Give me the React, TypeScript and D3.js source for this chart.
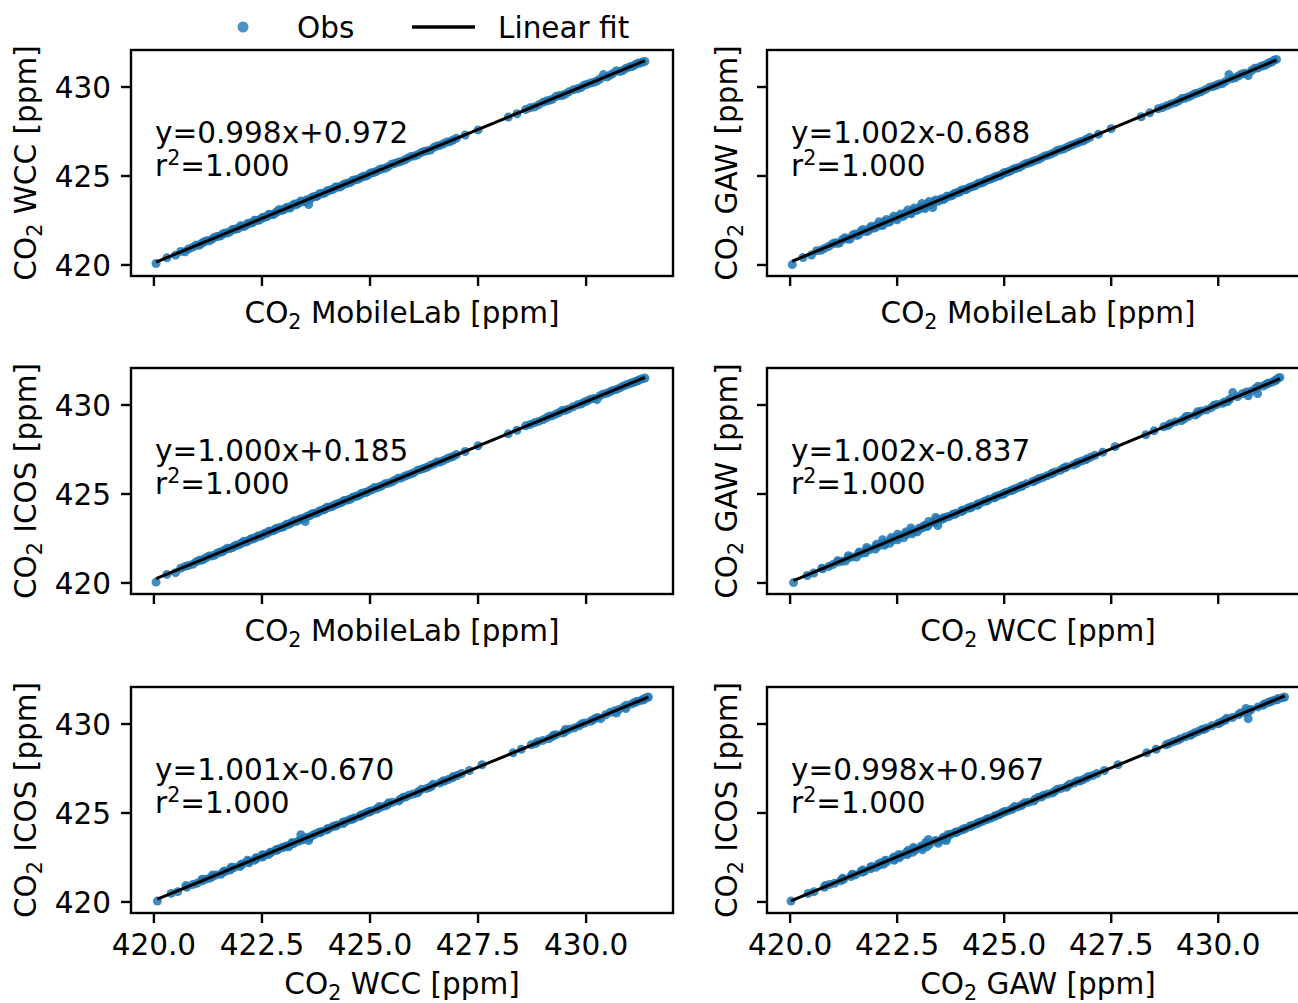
import React from "react";
import * as d3 from "d3";

// CO2 readings of the four instruments (same time stamps), ppm
const mobileLab = [
  420.05, 420.5, 420.72, 420.9, 421.05, 421.15, 421.28, 421.4, 421.52, 421.6,
  421.7, 421.82, 421.9, 422.0, 422.08, 422.17, 422.25, 422.33, 422.42, 422.5,
  422.58, 422.66, 422.75, 422.83, 422.9, 423.0, 423.08, 423.15, 423.25, 423.33,
  423.4, 423.5, 423.58, 423.66, 423.75, 423.83, 423.92, 424.0, 424.1, 424.2,
  424.3, 424.4, 424.5, 424.6, 424.7, 424.8, 424.9, 425.0, 425.1, 425.22,
  425.35, 425.5, 425.65, 425.8, 425.95, 426.1, 426.25, 426.4, 426.55, 426.7,
  426.85, 427.0, 427.2, 427.5, 428.2, 428.6, 428.8, 429.0, 429.15, 429.3,
  429.45, 429.6, 429.8, 429.95, 430.1, 430.25, 430.4, 430.55, 430.7, 430.85,
  431.0, 431.1, 431.2, 431.3, 431.36,
  420.3, 420.62, 420.8, 420.98, 421.1, 421.22, 421.34, 421.46, 421.56, 421.65,
  421.76, 421.86, 421.95, 422.04, 422.12, 422.21, 422.29, 422.37, 422.46, 422.54,
  422.62, 422.7, 422.79, 422.87, 422.95, 423.04, 423.12, 423.2, 423.29, 423.37,
  423.45, 423.54, 423.62, 423.7, 423.79, 423.88, 423.96, 424.05, 424.15, 424.25,
  424.35, 424.45, 424.55, 424.65, 424.75, 424.85, 424.95, 425.05, 425.16, 425.28,
  425.42, 425.57, 425.72, 425.87, 426.02, 426.18, 426.32, 426.48, 426.62, 426.78,
  426.92, 428.4, 428.7, 428.9, 429.08, 429.22, 429.38, 429.52, 429.7, 429.88,
  430.02, 430.18, 430.32, 430.48, 430.62, 430.78, 430.92, 431.05, 431.15, 431.25,
];
const wcc = [
  420.08, 420.55, 420.74, 421.0, 421.11, 421.29, 421.36, 421.55, 421.62, 421.76,
  421.79, 421.99, 422.02, 422.2, 422.16, 422.33, 422.36, 422.51, 422.51, 422.65,
  422.7, 422.85, 422.82, 422.97, 423.12, 423.1, 423.24, 423.2, 423.43, 423.45,
  423.6, 423.58, 423.4, 423.8, 423.85, 424.0, 424.01, 424.15, 424.22, 424.38,
  424.38, 424.54, 424.61, 424.76, 424.8, 424.93, 424.99, 425.15, 425.21, 425.36,
  425.43, 425.66, 425.77, 425.9, 426.1, 426.19, 426.38, 426.46, 426.69, 426.81,
  426.93, 427.12, 427.3, 427.59, 428.31, 428.73, 428.88, 429.14, 429.25, 429.46,
  429.52, 429.73, 429.9, 430.1, 430.22, 430.34, 430.7, 430.66, 430.92, 430.93,
  431.12, 431.19, 431.33, 431.4, 431.44,
  420.4, 420.76, 420.9, 421.12, 421.2, 421.36, 421.44, 421.6, 421.66, 421.79,
  421.86, 422.0, 422.05, 422.18, 422.22, 422.35, 422.39, 422.5, 422.56, 422.68,
  422.72, 422.84, 422.88, 423.01, 423.05, 423.17, 423.22, 423.34, 423.38, 423.5,
  423.55, 423.67, 423.72, 423.84, 423.88, 424.01, 424.06, 424.18, 424.25, 424.38,
  424.45, 424.58, 424.64, 424.78, 424.85, 424.98, 425.05, 425.18, 425.27, 425.41,
  425.52, 425.7, 425.82, 426.0, 426.12, 426.31, 426.42, 426.61, 426.72, 426.91,
  427.02, 428.5, 428.83, 429.0, 429.21, 429.31, 429.52, 429.61, 429.84, 429.97,
  430.15, 430.27, 430.45, 430.56, 430.76, 430.87, 431.05, 431.15, 431.28, 431.35,
];
const icos = [
  420.05, 420.58, 420.92, 421.05, 421.27, 421.33, 421.52, 421.56, 421.73, 421.79,
  421.95, 421.99, 422.12, 422.2, 422.34, 422.35, 422.48, 422.52, 422.66, 422.67,
  422.79, 422.91, 422.93, 423.06, 423.1, 423.16, 423.3, 423.34, 423.49, 423.51,
  423.61, 423.45, 423.78, 423.89, 423.92, 424.05, 424.11, 424.25, 424.28, 424.41,
  424.5, 424.64, 424.67, 424.82, 424.89, 425.03, 425.08, 425.21, 425.36, 425.41,
  425.57, 425.67, 425.89, 426.0, 426.13, 426.33, 426.44, 426.61, 426.8, 426.88,
  427.05, 427.22, 427.39, 427.71, 428.38, 428.83, 429.0, 429.17, 429.37, 429.49,
  429.69, 429.78, 430.01, 430.15, 430.33, 430.3, 430.62, 430.74, 430.87, 431.06,
  431.2, 431.28, 431.36, 431.47, 431.52,
  420.48, 420.83, 420.98, 421.19, 421.28, 421.43, 421.52, 421.67, 421.74, 421.86,
  421.94, 422.07, 422.13, 422.25, 422.3, 422.42, 422.47, 422.57, 422.64, 422.75,
  422.8, 422.91, 422.97, 423.08, 423.13, 423.24, 423.3, 423.41, 423.46, 423.57,
  423.63, 423.74, 423.8, 423.91, 423.96, 424.08, 424.14, 424.25, 424.33, 424.45,
  424.53, 424.65, 424.72, 424.85, 424.93, 425.05, 425.13, 425.25, 425.34, 425.48,
  425.6, 425.77, 425.9, 426.07, 426.2, 426.38, 426.5, 426.68, 426.8, 426.98,
  427.1, 428.58, 428.9, 429.08, 429.28, 429.4, 429.58, 429.7, 429.9, 430.06,
  430.22, 430.36, 430.52, 430.66, 430.82, 430.96, 431.12, 431.24, 431.33, 431.44,
];
const gaw = [
  420.02, 420.56, 420.82, 421.04, 421.25, 421.23, 421.53, 421.45, 421.74, 421.7,
  422.0, 421.9, 422.18, 422.12, 422.43, 422.23, 422.55, 422.43, 422.74, 422.54,
  422.86, 422.76, 423.09, 422.88, 423.2, 423.12, 423.46, 423.17, 423.57, 423.23,
  423.65, 423.65, 423.68, 423.86, 423.87, 424.01, 424.07, 424.2, 424.22, 424.37,
  424.44, 424.59, 424.63, 424.78, 424.85, 424.96, 425.02, 425.18, 425.24, 425.39,
  425.48, 425.69, 425.8, 425.92, 426.13, 426.24, 426.45, 426.53, 426.71, 426.85,
  426.97, 427.17, 427.34, 427.66, 428.33, 428.78, 428.95, 429.12, 429.35, 429.44,
  429.62, 429.73, 429.99, 430.1, 430.2, 430.7, 430.52, 430.73, 430.65, 431.05,
  431.16, 431.24, 431.38, 431.5, 431.55,
  420.42, 420.8, 420.92, 421.18, 421.22, 421.42, 421.46, 421.68, 421.66, 421.88,
  421.88, 422.08, 422.06, 422.26, 422.22, 422.44, 422.4, 422.56, 422.62, 422.74,
  422.72, 422.92, 422.9, 423.08, 423.06, 423.26, 423.22, 423.42, 423.4, 423.56,
  423.58, 423.72, 423.74, 423.86, 423.92, 424.04, 424.1, 424.22, 424.3, 424.4,
  424.5, 424.6, 424.7, 424.8, 424.9, 425.0, 425.1, 425.2, 425.31, 425.43,
  425.57, 425.72, 425.87, 426.02, 426.17, 426.33, 426.47, 426.63, 426.77, 426.93,
  427.07, 428.55, 428.85, 429.05, 429.23, 429.37, 429.53, 429.67, 429.85, 430.03,
  430.17, 430.33, 430.47, 430.63, 430.77, 430.93, 431.07, 431.2, 431.3, 431.4,
];

const instruments: Record<string, number[]> = {
  MobileLab: mobileLab,
  WCC: wcc,
  ICOS: icos,
  GAW: gaw,
};

// panel order: row by row, left then right
const panelX = ["MobileLab", "MobileLab", "MobileLab", "WCC", "WCC", "GAW"];
const panelY = ["WCC", "GAW", "ICOS", "GAW", "ICOS", "ICOS"];
// printed fit results
const slopes = [0.998, 1.002, 1.0, 1.002, 1.001, 0.998];
const intercepts = [0.972, -0.688, 0.185, -0.837, -0.67, 0.967];
const r2s = ["1.000", "1.000", "1.000", "1.000", "1.000", "1.000"];

const yTicks = [420, 425, 430];
const xTicks = [420, 422.5, 425, 427.5, 430];

const W = 1298;
const H = 1003;
const colLeft = [131, 767];
const rowTop = [50, 368, 687];
const pw = 542;
const ph = 226;
const xDomains = [
  [419.47, 432.01],
  [419.46, 432.12],
];
const yDomain = [419.38, 432.08];

const font = "DejaVu Sans";
const fs = 29.5;
const blue = "#1f77b4";
const spineW = 2.4;
const tickLen = 10;

// least squares line through the plotted points
function lsq(xs: number[], ys: number[]) {
  const mx = d3.mean(xs) as number;
  const my = d3.mean(ys) as number;
  let sxy = 0;
  let sxx = 0;
  xs.forEach((v, k) => {
    sxy += (v - mx) * (ys[k] - my);
    sxx += (v - mx) * (v - mx);
  });
  const b = sxy / sxx;
  return { b, a: my - b * mx };
}

function Label({ name, ...rest }: any) {
  return (
    <text {...rest}>
      CO
      <tspan fontSize={fs * 0.7} dy={6}>2</tspan>
      <tspan dy={-6}>{" " + name + " [ppm]"}</tspan>
    </text>
  );
}

function Panel({ i }: { i: number }) {
  const row = Math.floor(i / 2);
  const col = i % 2;
  const left = colLeft[col];
  const top = rowTop[row];
  const x = d3.scaleLinear().domain(xDomains[col]).range([left, left + pw]);
  const y = d3.scaleLinear().domain(yDomain).range([top + ph, top]);
  const xs = instruments[panelX[i]];
  const ys = instruments[panelY[i]];
  const [x0, x1] = d3.extent(xs) as [number, number];
  const { a, b } = lsq(xs, ys);
  const line = d3.line<number>().x((v) => x(v)).y((v) => y(b * v + a));
  const bottom = top + ph;
  const sign = intercepts[i] < 0 ? "-" : "+";

  return (
    <g>
      {xs.map((v, k) => (
        <circle key={k} cx={x(v)} cy={y(ys[k])} r={4.5} fill={blue} fillOpacity={0.85} />
      ))}
      <path d={line([x0, x1]) || ""} stroke="#000" strokeWidth={3} fill="none" />
      <text x={left + 24} y={top + 93} fontFamily={font} fontSize={fs}>
        {`y=${slopes[i].toFixed(3)}x${sign}${Math.abs(intercepts[i]).toFixed(3)}`}
      </text>
      <text x={left + 24} y={top + 126} fontFamily={font} fontSize={fs}>
        r<tspan fontSize={fs * 0.7} dy={-11}>2</tspan>
        <tspan dy={11}>{"=" + r2s[i]}</tspan>
      </text>
      <rect x={left} y={top} width={pw} height={ph} fill="none" stroke="#000" strokeWidth={spineW} />
      {yTicks.map((t) => (
        <g key={"y" + t}>
          <line x1={left - tickLen} x2={left} y1={y(t)} y2={y(t)} stroke="#000" strokeWidth={spineW} />
          {col === 0 && (
            <text x={left - tickLen - 10} y={y(t)} dy="0.36em" textAnchor="end" fontFamily={font} fontSize={fs}>
              {t}
            </text>
          )}
        </g>
      ))}
      {xTicks.map((t) => (
        <g key={"x" + t}>
          <line x1={x(t)} x2={x(t)} y1={bottom} y2={bottom + tickLen} stroke="#000" strokeWidth={spineW} />
          {row === 2 && (
            <text x={x(t)} y={bottom + 42} textAnchor="middle" fontFamily={font} fontSize={fs}>
              {t.toFixed(1)}
            </text>
          )}
        </g>
      ))}
      <Label
        name={panelX[i]}
        x={left + pw / 2}
        y={row === 2 ? bottom + 81 : bottom + 47}
        textAnchor="middle"
        fontFamily={font}
        fontSize={fs}
      />
      <Label
        name={panelY[i]}
        transform={`translate(${col === 0 ? 36 : 737},${top + ph / 2}) rotate(-90)`}
        textAnchor="middle"
        fontFamily={font}
        fontSize={fs}
      />
    </g>
  );
}

export default function App() {
  return (
    <svg width={W} height={H} style={{ position: "absolute", left: 0, top: 0, background: "#fff" }}>
      <rect width={W} height={H} fill="#fff" />
      {d3.range(6).map((i) => (
        <Panel key={i} i={i} />
      ))}
      <g fontFamily={font} fontSize={fs}>
        <circle cx={243} cy={27} r={5.5} fill={blue} fillOpacity={0.8} />
        <text x={297} y={38}>Obs</text>
        <line x1={412} x2={475} y1={27} y2={27} stroke="#000" strokeWidth={3.3} />
        <text x={498} y={38}>Linear fit</text>
      </g>
    </svg>
  );
}
